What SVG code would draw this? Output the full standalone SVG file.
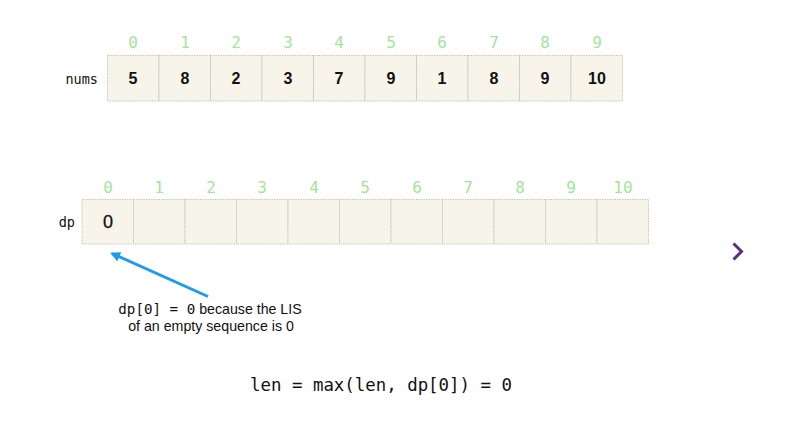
<svg xmlns="http://www.w3.org/2000/svg" width="788" height="422" viewBox="0 0 788 422">
<defs>
<style>
.cell{fill:#f7f5e9;stroke:#c8c6bc;stroke-width:1;stroke-dasharray:1.5 1}
.idx{font-family:"DejaVu Sans Mono","Liberation Mono",monospace;font-size:16px;fill:#a3e59a;text-anchor:middle}
.val{font-family:"Liberation Sans",Arial,sans-serif;font-weight:bold;font-size:16px;fill:#111;text-anchor:middle}
.lbl{font-family:"DejaVu Sans Mono","Liberation Mono",monospace;font-size:13.5px;fill:#111;text-anchor:end}
.note{font-family:"Liberation Sans",Arial,sans-serif;font-size:14.2px;fill:#111;text-anchor:middle}
.mono{font-family:"DejaVu Sans Mono","Liberation Mono",monospace}
.eq{font-family:"DejaVu Sans Mono","Liberation Mono",monospace;font-size:17.4px;fill:#111;text-anchor:middle}
</style>
<marker id="ah" markerWidth="10" markerHeight="10" refX="8" refY="5" orient="auto" markerUnits="userSpaceOnUse">
<path d="M0,0 L10,5 L0,10 z" fill="#1a9cf0"/>
</marker>
</defs>
<rect width="788" height="422" fill="#fff"/>
<g id="nums">
<text class="lbl" x="98" y="84">nums</text>
<rect class="cell" x="107.5" y="55.5" width="51.5" height="45.5"/>
<rect class="cell" x="159" y="55.5" width="51.5" height="45.5"/>
<rect class="cell" x="210.5" y="55.5" width="51.5" height="45.5"/>
<rect class="cell" x="262" y="55.5" width="51.5" height="45.5"/>
<rect class="cell" x="313.5" y="55.5" width="51.5" height="45.5"/>
<rect class="cell" x="365" y="55.5" width="51.5" height="45.5"/>
<rect class="cell" x="416.5" y="55.5" width="51.5" height="45.5"/>
<rect class="cell" x="468" y="55.5" width="51.5" height="45.5"/>
<rect class="cell" x="519.5" y="55.5" width="51.5" height="45.5"/>
<rect class="cell" x="571" y="55.5" width="51.5" height="45.5"/>
<text class="idx" x="133" y="47.5">0</text>
<text class="idx" x="185" y="47.5">1</text>
<text class="idx" x="236" y="47.5">2</text>
<text class="idx" x="288" y="47.5">3</text>
<text class="idx" x="339" y="47.5">4</text>
<text class="idx" x="391" y="47.5">5</text>
<text class="idx" x="442" y="47.5">6</text>
<text class="idx" x="494" y="47.5">7</text>
<text class="idx" x="545" y="47.5">8</text>
<text class="idx" x="597" y="47.5">9</text>
<text class="val" x="133" y="84">5</text>
<text class="val" x="185" y="84">8</text>
<text class="val" x="236" y="84">2</text>
<text class="val" x="288" y="84">3</text>
<text class="val" x="339" y="84">7</text>
<text class="val" x="391" y="84">9</text>
<text class="val" x="442" y="84">1</text>
<text class="val" x="494" y="84">8</text>
<text class="val" x="545" y="84">9</text>
<text class="val" x="597" y="84">10</text>
</g>
<g id="dp">
<text class="lbl" x="75" y="227">dp</text>
<rect class="cell" x="82" y="199.5" width="51.5" height="44.5"/>
<rect class="cell" x="133.5" y="199.5" width="51.5" height="44.5"/>
<rect class="cell" x="185" y="199.5" width="51.5" height="44.5"/>
<rect class="cell" x="236.5" y="199.5" width="51.5" height="44.5"/>
<rect class="cell" x="288" y="199.5" width="51.5" height="44.5"/>
<rect class="cell" x="339.5" y="199.5" width="51.5" height="44.5"/>
<rect class="cell" x="391" y="199.5" width="51.5" height="44.5"/>
<rect class="cell" x="442.5" y="199.5" width="51.5" height="44.5"/>
<rect class="cell" x="494" y="199.5" width="51.5" height="44.5"/>
<rect class="cell" x="545.5" y="199.5" width="51.5" height="44.5"/>
<rect class="cell" x="597" y="199.5" width="51.5" height="44.5"/>
<text class="idx" x="108" y="192.5">0</text>
<text class="idx" x="159" y="192.5">1</text>
<text class="idx" x="211" y="192.5">2</text>
<text class="idx" x="262" y="192.5">3</text>
<text class="idx" x="314" y="192.5">4</text>
<text class="idx" x="365" y="192.5">5</text>
<text class="idx" x="417" y="192.5">6</text>
<text class="idx" x="468" y="192.5">7</text>
<text class="idx" x="520" y="192.5">8</text>
<text class="idx" x="571" y="192.5">9</text>
<text class="idx" x="623" y="192.5">10</text>
<text x="108" y="228" font-family="Liberation Sans, Arial, sans-serif" font-size="18" fill="#111" stroke="#111" stroke-width="0.3" text-anchor="middle">0</text>
</g>
<g id="connectors">
<line x1="208" y1="296.5" x2="112" y2="253.5" stroke="#1a9cf0" stroke-width="3" marker-end="url(#ah)"/>
</g>
<g id="note">
<text class="note" x="210" y="314"><tspan class="mono">dp[0] = 0</tspan> because the LIS</text>
<text class="note" x="211" y="331">of an empty sequence is 0</text>
</g>
<g id="equation">
<text class="eq" x="381" y="391">len = max(len, dp[0]) = 0</text>
</g>
<g id="nav">
<path d="M733.5,243.5 L741.5,251.5 L733.5,259.5" fill="none" stroke="#5b2d82" stroke-width="3"/>
</g>
</svg>
